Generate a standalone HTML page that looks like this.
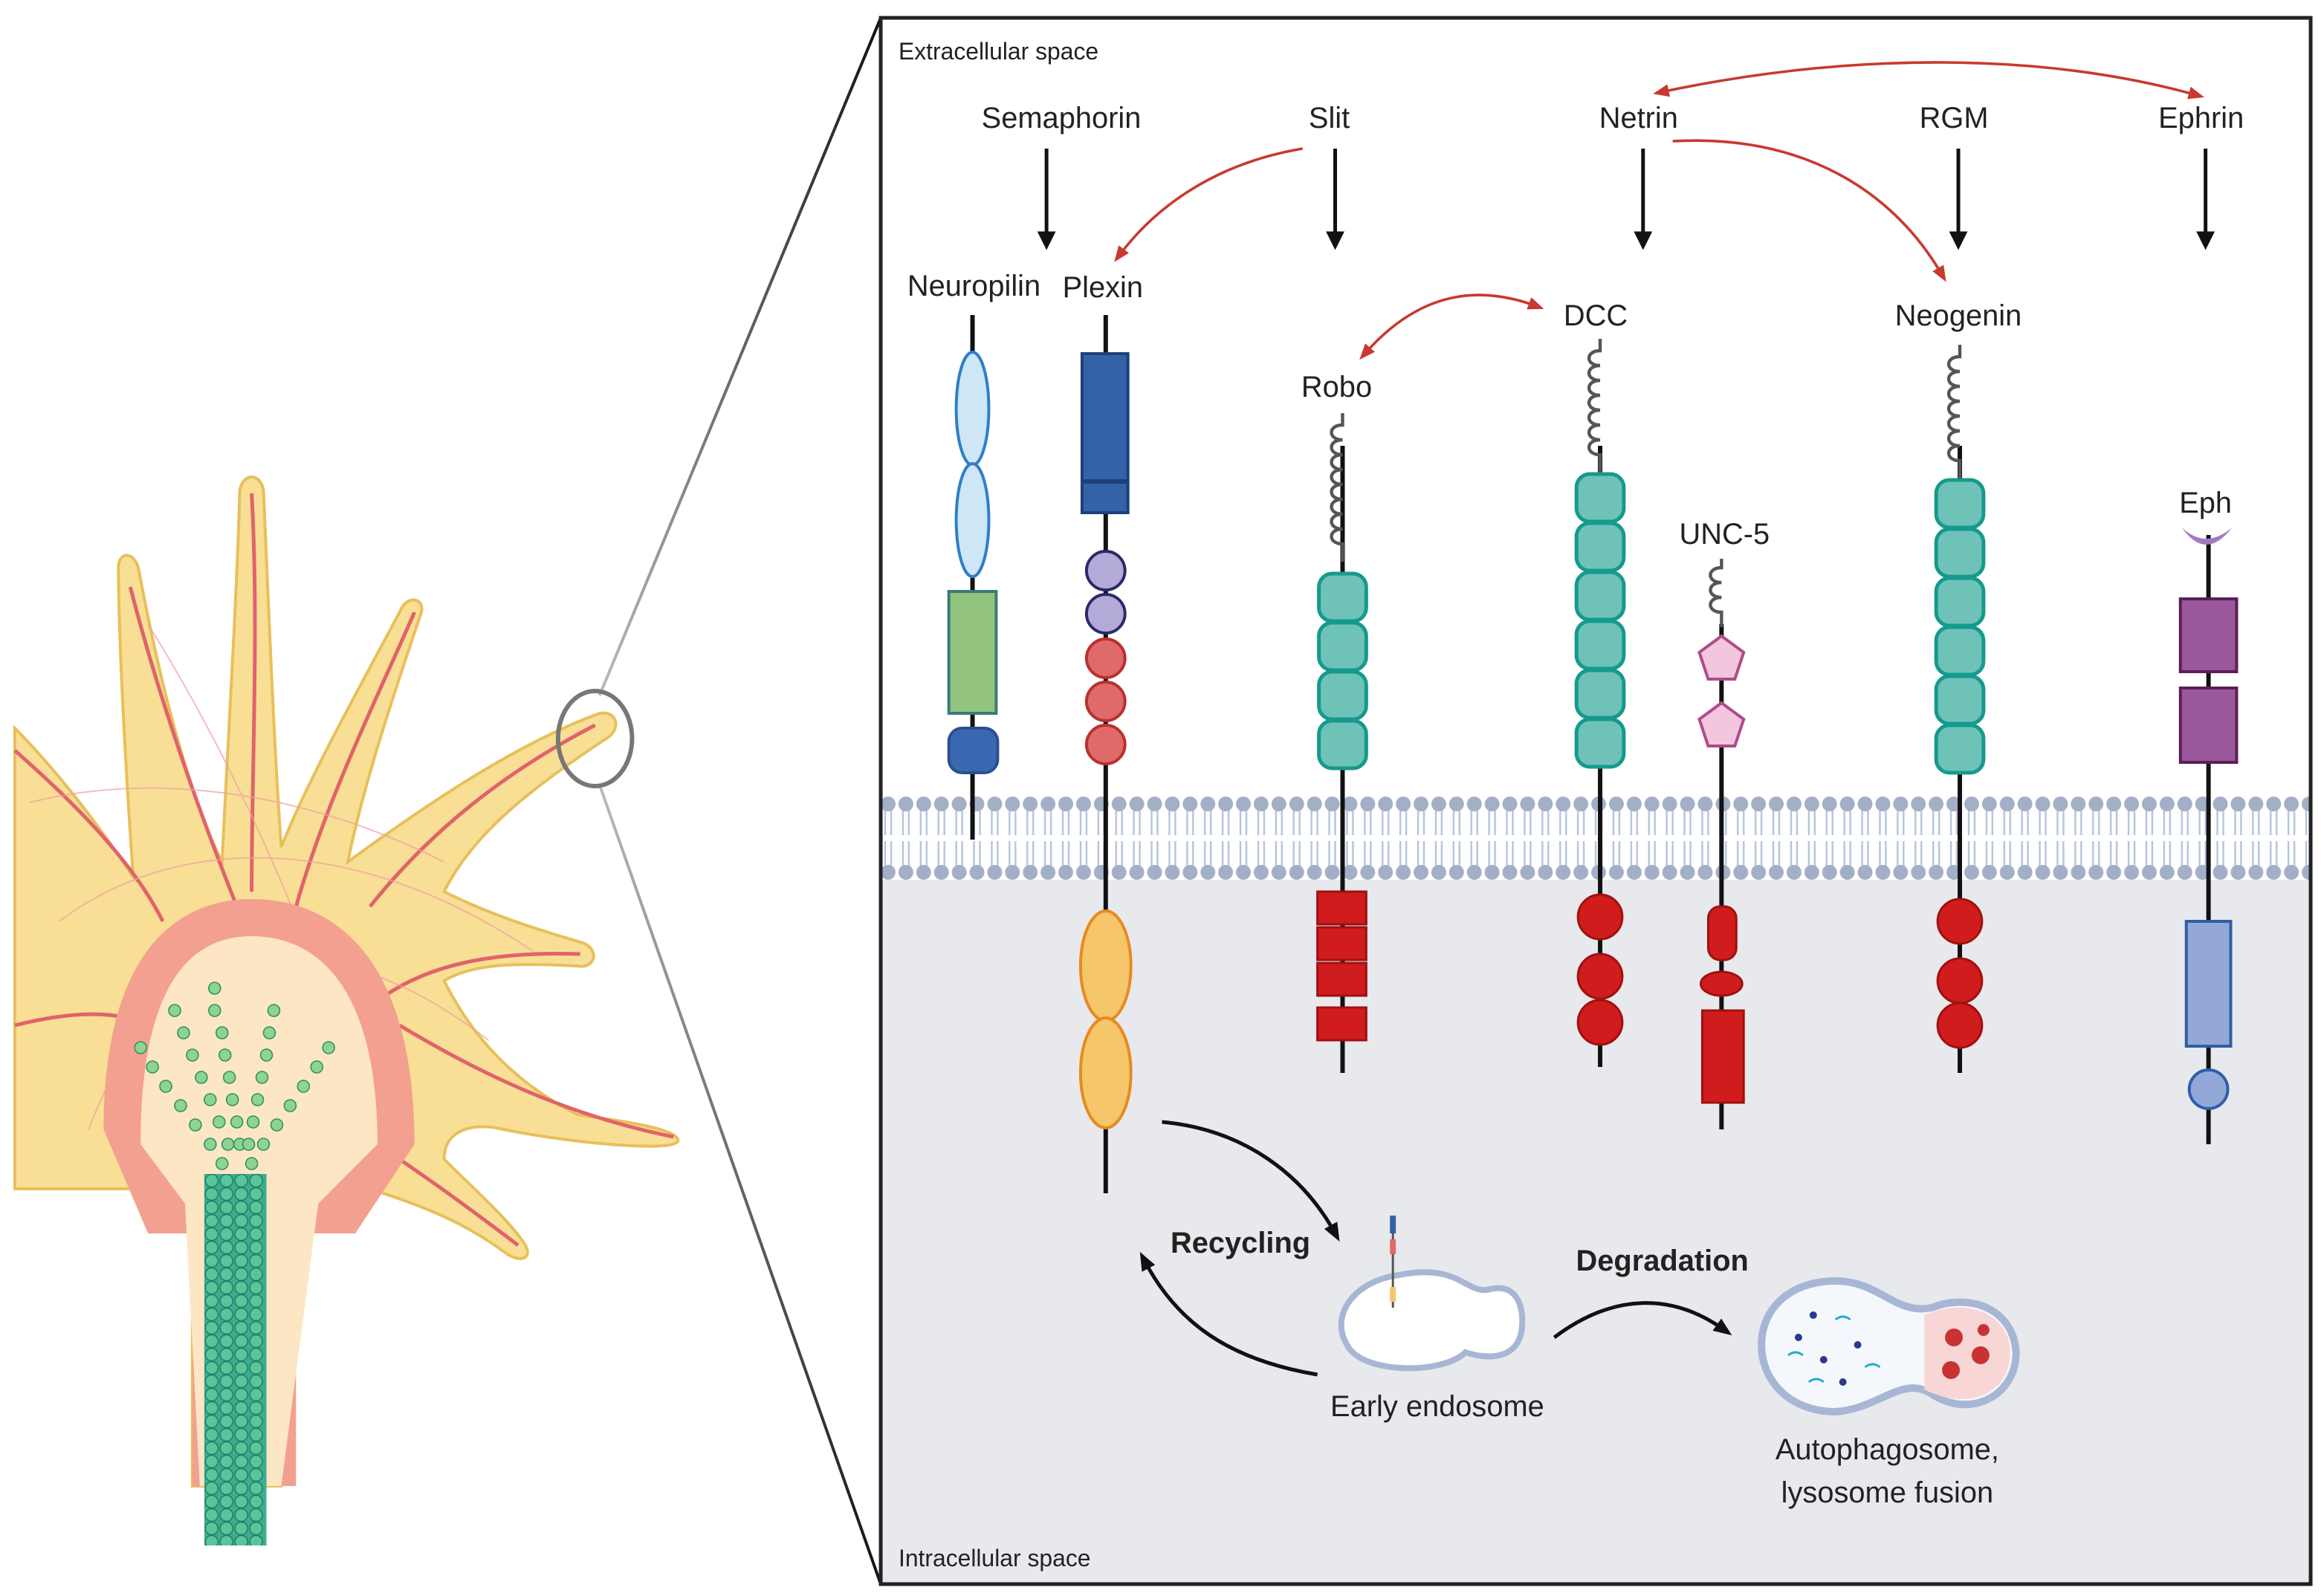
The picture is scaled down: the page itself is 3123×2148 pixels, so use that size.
<!DOCTYPE html>
<html><head><meta charset="utf-8"><style>
html,body{margin:0;padding:0;background:#fff}
svg{display:block}
text{font-family:"Liberation Sans",sans-serif;fill:#222}
</style></head><body>
<svg width="3123" height="2148" viewBox="0 0 1568 1074" preserveAspectRatio="none" xmlns="http://www.w3.org/2000/svg">
<defs>
<marker id="ab" viewBox="0 0 10 10" refX="5" refY="5" markerWidth="5" markerHeight="5" orient="auto"><path d="M0,0L10,5L0,10z" fill="#111"/></marker>
<marker id="ar" viewBox="0 0 10 10" refX="5" refY="5" markerWidth="6" markerHeight="6" orient="auto-start-reverse"><path d="M0,1L10,5L0,9z" fill="#c8392f"/></marker>
<marker id="ak" viewBox="0 0 10 10" refX="5" refY="5" markerWidth="5" markerHeight="5" orient="auto"><path d="M0,1L10,5L0,9z" fill="#111"/></marker>
<pattern id="mem" width="12" height="56" patternUnits="userSpaceOnUse" x="594" y="536">
<line x1="4" y1="6" x2="4" y2="26" stroke="#b5c3dc" stroke-width="1.2"/><line x1="8" y1="6" x2="8" y2="26" stroke="#b5c3dc" stroke-width="1.2"/>
<line x1="4" y1="30" x2="4" y2="50" stroke="#b5c3dc" stroke-width="1.2"/><line x1="8" y1="30" x2="8" y2="50" stroke="#b5c3dc" stroke-width="1.2"/>
<circle cx="6" cy="5" r="5" fill="#a2afc6"/><circle cx="6" cy="51" r="5" fill="#a2afc6"/>
</pattern>
<pattern id="mt" width="10" height="9" patternUnits="userSpaceOnUse" x="138" y="790">
<circle cx="5" cy="4.5" r="4.3" fill="#5cc49a" stroke="#1f7f6a" stroke-width="0.8"/>
</pattern>
<linearGradient id="zl" x1="0" x2="1"><stop offset="0" stop-color="#bbb"/><stop offset="1" stop-color="#111"/></linearGradient>
</defs>

<line x1="405" y1="468" x2="595" y2="12" stroke="url(#zl)" stroke-width="2"/>
<line x1="405" y1="528" x2="595" y2="1066" stroke="url(#zl)" stroke-width="2"/>

<path d="M10,490 C40,520 70,560 90,590 C85,520 80,430 80,380 C82,370 92,372 94,385 C110,470 130,540 150,580 C155,480 160,400 162,330 C164,318 176,318 178,330 C182,420 185,500 190,570 C210,520 250,450 272,408 C278,400 288,404 284,414 C265,470 245,530 235,580 C290,540 350,500 405,480 C418,478 420,492 408,498 C360,530 320,560 300,600 C340,620 380,630 395,635 C405,640 402,652 390,650 C350,648 320,648 300,660 C320,700 350,730 390,750 C400,752 460,758 458,768 C455,775 390,770 340,760 C320,755 300,760 300,780 C320,800 345,822 355,838 C360,848 350,850 340,842 C310,820 280,810 250,800 L190,800 L190,1000 L130,1000 L130,800 C100,800 50,800 10,800 Z" fill="#f8df95" stroke="#e7c05a" stroke-width="2"/>
<g stroke="#e0636b" stroke-width="2.5" fill="none">
<path d="M10,505 C50,540 90,580 110,620"/><path d="M88,395 C110,480 140,560 160,610"/><path d="M170,332 C175,420 170,520 170,600"/><path d="M280,412 C250,480 220,540 200,610"/><path d="M402,488 C340,520 290,560 250,610"/><path d="M392,642 C330,640 290,650 260,670"/><path d="M455,765 C380,750 320,720 270,690"/><path d="M350,838 C300,800 270,780 240,760"/><path d="M10,690 C50,680 80,680 100,690"/>
</g>
<g stroke="#f1a0a0" stroke-width="1" fill="none" opacity="0.7">
<path d="M20,540 C100,520 200,530 300,580"/><path d="M40,620 C120,560 240,560 360,640"/><path d="M60,760 C100,650 200,600 330,700"/><path d="M100,420 C150,500 200,600 260,780"/>
</g>
<path d="M70,760 C70,640 120,605 170,605 C230,605 280,650 280,770 L240,830 L200,830 L200,1000 L130,1000 L130,830 L100,830 Z" fill="#f3a090"/>
<path d="M95,770 C95,660 130,630 170,630 C215,630 255,665 255,770 L215,810 L190,1000 L135,1000 L125,810 Z" fill="#fce6c4"/>
<rect x="138" y="790" width="42" height="250" fill="#3bae8e"/>
<rect x="138" y="790" width="40" height="250" fill="url(#mt)"/>
<g fill="#8dd58e" stroke="#2f8f6a" stroke-width="0.8">
<circle cx="145" cy="665" r="4"/><circle cx="145" cy="680" r="4"/><circle cx="150" cy="695" r="4"/><circle cx="152" cy="710" r="4"/><circle cx="155" cy="725" r="4"/><circle cx="157" cy="740" r="4"/><circle cx="160" cy="755" r="4"/><circle cx="162" cy="770" r="4"/>
<circle cx="118" cy="680" r="4"/><circle cx="124" cy="695" r="4"/><circle cx="130" cy="710" r="4"/><circle cx="136" cy="725" r="4"/><circle cx="142" cy="740" r="4"/><circle cx="148" cy="755" r="4"/><circle cx="154" cy="770" r="4"/>
<circle cx="95" cy="705" r="4"/><circle cx="103" cy="718" r="4"/><circle cx="112" cy="731" r="4"/><circle cx="122" cy="744" r="4"/><circle cx="132" cy="757" r="4"/><circle cx="142" cy="770" r="4"/><circle cx="150" cy="783" r="4"/>
<circle cx="185" cy="680" r="4"/><circle cx="182" cy="695" r="4"/><circle cx="180" cy="710" r="4"/><circle cx="177" cy="725" r="4"/><circle cx="174" cy="740" r="4"/><circle cx="171" cy="755" r="4"/><circle cx="168" cy="770" r="4"/>
<circle cx="222" cy="705" r="4"/><circle cx="214" cy="718" r="4"/><circle cx="205" cy="731" r="4"/><circle cx="196" cy="744" r="4"/><circle cx="187" cy="757" r="4"/><circle cx="178" cy="770" r="4"/><circle cx="170" cy="783" r="4"/>
</g>
<ellipse cx="402" cy="497" rx="25" ry="32" fill="none" stroke="#777" stroke-width="3"/>

<rect x="595" y="592" width="966" height="473" fill="#e8e9ed"/>
<rect x="595" y="536" width="966" height="56" fill="url(#mem)"/>
<rect x="595" y="12" width="966" height="1054" fill="none" stroke="#222" stroke-width="2.5"/>

<text x="607" y="40" font-size="16">Extracellular space</text>
<text x="607" y="1054" font-size="16">Intracellular space</text>
<g font-size="20" text-anchor="middle">
<text x="717" y="86">Semaphorin</text><text x="898" y="86">Slit</text><text x="1107" y="86">Netrin</text><text x="1320" y="86">RGM</text><text x="1487" y="86">Ephrin</text>
<text x="658" y="199">Neuropilin</text><text x="745" y="200">Plexin</text><text x="903" y="267">Robo</text><text x="1078" y="219">DCC</text><text x="1165" y="366">UNC-5</text><text x="1323" y="219">Neogenin</text><text x="1490" y="345">Eph</text>
</g>
<g stroke="#111" stroke-width="2.5" marker-end="url(#ab)">
<line x1="707" y1="100" x2="707" y2="162"/><line x1="902" y1="100" x2="902" y2="162"/><line x1="1110" y1="100" x2="1110" y2="162"/><line x1="1323" y1="100" x2="1323" y2="162"/><line x1="1490" y1="100" x2="1490" y2="162"/>
</g>
<g stroke="#c8392f" stroke-width="1.8" fill="none">
<path d="M880,100 C820,110 780,140 756,172" marker-end="url(#ar)"/>
<path d="M1130,95 C1220,90 1280,130 1312,185" marker-end="url(#ar)"/>
<path d="M1122,62 C1250,35 1380,35 1484,64" marker-start="url(#ar)" marker-end="url(#ar)"/>
<path d="M922,238 C960,195 1000,192 1038,206" marker-start="url(#ar)" marker-end="url(#ar)"/>
</g>

<g stroke="#111" stroke-width="3">
<line x1="657" y1="212" x2="657" y2="565"/><line x1="747" y1="212" x2="747" y2="803"/><line x1="907" y1="300" x2="907" y2="722"/><line x1="1081" y1="300" x2="1081" y2="718"/><line x1="1163" y1="420" x2="1163" y2="760"/><line x1="1324" y1="300" x2="1324" y2="722"/><line x1="1492" y1="360" x2="1492" y2="770"/>
</g>
<g fill="none" stroke="#555" stroke-width="2.2">
<path d="M907,278 v8 c-10,0 -10,10 0,10 c-10,0 -10,10 0,10 c-10,0 -10,10 0,10 c-10,0 -10,10 0,10 c-10,0 -10,10 0,10 c-10,0 -10,10 0,10 c-10,0 -10,10 0,10 c-10,0 -10,10 0,10 v12"/>
<path d="M1081,228 v8 c-10,0 -10,10 0,10 c-10,0 -10,10 0,10 c-10,0 -10,10 0,10 c-10,0 -10,10 0,10 c-10,0 -10,10 0,10 c-10,0 -10,10 0,10 c-10,0 -10,10 0,10 v12"/>
<path d="M1324,232 v8 c-10,0 -10,10 0,10 c-10,0 -10,10 0,10 c-10,0 -10,10 0,10 c-10,0 -10,10 0,10 c-10,0 -10,10 0,10 c-10,0 -10,10 0,10 c-10,0 -10,10 0,10 v12"/>
<path d="M1163,376 v6 c-10,0 -10,10 0,10 c-10,0 -10,10 0,10 c-10,0 -10,10 0,10 v10"/>
</g>
<ellipse cx="657" cy="275" rx="11" ry="38" fill="#cfe6f7" stroke="#2f7fc8" stroke-width="2"/>
<ellipse cx="657" cy="350" rx="11" ry="38" fill="#cfe6f7" stroke="#2f7fc8" stroke-width="2"/>
<rect x="641" y="398" width="32" height="82" fill="#93c47d" stroke="#3c7a7a" stroke-width="2"/>
<rect x="641" y="490" width="33" height="30" rx="9" fill="#3a68b0" stroke="#2a5090" stroke-width="2"/>
<rect x="731" y="238" width="31" height="107" fill="#3462a8" stroke="#1e3f78" stroke-width="2"/>
<line x1="731" y1="324" x2="762" y2="324" stroke="#1e3f78" stroke-width="3"/>
<g stroke-width="2"><circle cx="747" cy="384" r="13" fill="#b3aad8" stroke="#2a2a6a"/><circle cx="747" cy="413" r="13" fill="#b3aad8" stroke="#2a2a6a"/>
<circle cx="747" cy="443" r="13" fill="#e06a6a" stroke="#b83030"/><circle cx="747" cy="472" r="13" fill="#e06a6a" stroke="#b83030"/><circle cx="747" cy="501" r="13" fill="#e06a6a" stroke="#b83030"/></g>
<ellipse cx="747" cy="650" rx="17" ry="37" fill="#f5c66a" stroke="#e88a20" stroke-width="2"/>
<ellipse cx="747" cy="722" rx="17" ry="37" fill="#f5c66a" stroke="#e88a20" stroke-width="2"/>
<g fill="#6fc2b8" stroke="#159a8c" stroke-width="2.5">
<rect x="891" y="386" width="32" height="32" rx="9"/><rect x="891" y="419" width="32" height="32" rx="9"/><rect x="891" y="452" width="32" height="32" rx="9"/><rect x="891" y="485" width="32" height="32" rx="9"/>
<rect x="1065" y="319" width="32" height="32" rx="9"/><rect x="1065" y="352" width="32" height="32" rx="9"/><rect x="1065" y="385" width="32" height="32" rx="9"/><rect x="1065" y="418" width="32" height="32" rx="9"/><rect x="1065" y="451" width="32" height="32" rx="9"/><rect x="1065" y="484" width="32" height="32" rx="9"/>
<rect x="1308" y="323" width="32" height="32" rx="9"/><rect x="1308" y="356" width="32" height="32" rx="9"/><rect x="1308" y="389" width="32" height="32" rx="9"/><rect x="1308" y="422" width="32" height="32" rx="9"/><rect x="1308" y="455" width="32" height="32" rx="9"/><rect x="1308" y="488" width="32" height="32" rx="9"/>
</g>
<g fill="#d01c1c" stroke="#a01010" stroke-width="1.5">
<rect x="890" y="600" width="33" height="22"/><rect x="890" y="624" width="33" height="22"/><rect x="890" y="648" width="33" height="22"/><rect x="890" y="678" width="33" height="22"/>
<circle cx="1081" cy="617" r="15"/><circle cx="1081" cy="657" r="15"/><circle cx="1081" cy="688" r="15"/>
<circle cx="1324" cy="620" r="15"/><circle cx="1324" cy="660" r="15"/><circle cx="1324" cy="690" r="15"/>
<rect x="1154" y="610" width="19" height="36" rx="8"/><ellipse cx="1163" cy="662" rx="14" ry="8"/><rect x="1150" y="680" width="28" height="62"/>
</g>
<g fill="#f3c6de" stroke="#b04a8a" stroke-width="2">
<path d="M1163,428 L1178,439 L1172,457 L1154,457 L1148,439Z"/><path d="M1163,473 L1178,484 L1172,502 L1154,502 L1148,484Z"/>
</g>
<path d="M1474,355 Q1490,378 1508,355 Q1490,370 1474,355Z" fill="#a37ac0"/>
<rect x="1473" y="403" width="38" height="49" fill="#9a579a" stroke="#5a1f5a" stroke-width="2"/>
<rect x="1473" y="463" width="38" height="50" fill="#9a579a" stroke="#5a1f5a" stroke-width="2"/>
<rect x="1477" y="620" width="30" height="84" fill="#93a8d6" stroke="#2f5ea8" stroke-width="2"/>
<circle cx="1492" cy="733" r="13" fill="#93a8d6" stroke="#2f5ea8" stroke-width="2"/>

<g stroke="#111" stroke-width="2.5" fill="none">
<path d="M785,755 C840,760 880,790 902,830" marker-end="url(#ak)"/>
<path d="M890,925 C830,915 795,890 773,848" marker-end="url(#ak)"/>
<path d="M1050,900 C1090,870 1130,870 1165,895" marker-end="url(#ak)"/>
</g>
<text x="838" y="843" font-size="20" font-weight="bold" text-anchor="middle">Recycling</text>
<text x="1123" y="855" font-size="20" font-weight="bold" text-anchor="middle">Degradation</text>
<path d="M945,858 C985,850 990,870 1005,868 C1025,862 1030,880 1028,895 C1025,915 1005,915 990,910 C975,925 920,925 910,905 C898,885 915,862 945,858Z" fill="#fff" stroke="#a7b6d4" stroke-width="4"/>
<line x1="941" y1="818" x2="941" y2="880" stroke="#555" stroke-width="1.5"/>
<rect x="939" y="818" width="4" height="12" fill="#3462a8"/><rect x="939" y="834" width="4" height="10" fill="#e06a6a"/><rect x="939" y="866" width="4" height="10" fill="#f5c66a"/>
<text x="971" y="953" font-size="20" text-anchor="middle">Early endosome</text>
<path d="M1240,862 C1270,862 1280,885 1305,880 C1330,870 1360,880 1362,910 C1362,940 1330,955 1305,938 C1285,925 1270,948 1240,950 C1210,950 1190,930 1190,905 C1190,880 1210,862 1240,862Z" fill="#f4f8fc" stroke="#a7b6d4" stroke-width="5"/>
<path d="M1300,885 C1330,872 1358,885 1358,910 C1358,938 1330,950 1300,935 Z" fill="#f9d6d6"/>
<g fill="#c83232"><circle cx="1320" cy="900" r="6"/><circle cx="1338" cy="912" r="6"/><circle cx="1318" cy="922" r="6"/><circle cx="1340" cy="895" r="4"/></g>
<g fill="#2a3a8a"><circle cx="1215" cy="900" r="2.5"/><circle cx="1232" cy="915" r="2.5"/><circle cx="1255" cy="905" r="2.5"/><circle cx="1245" cy="930" r="2.5"/><circle cx="1225" cy="885" r="2.5"/></g>
<g stroke="#22aacc" stroke-width="1.5" fill="none"><path d="M1208,912 q5,-4 10,0"/><path d="M1240,888 q5,-4 10,0"/><path d="M1260,920 q5,-4 10,0"/><path d="M1222,930 q5,-4 10,0"/></g>
<text x="1275" y="982" font-size="20" text-anchor="middle">Autophagosome,</text>
<text x="1275" y="1011" font-size="20" text-anchor="middle">lysosome fusion</text>
</svg>
</body></html>
